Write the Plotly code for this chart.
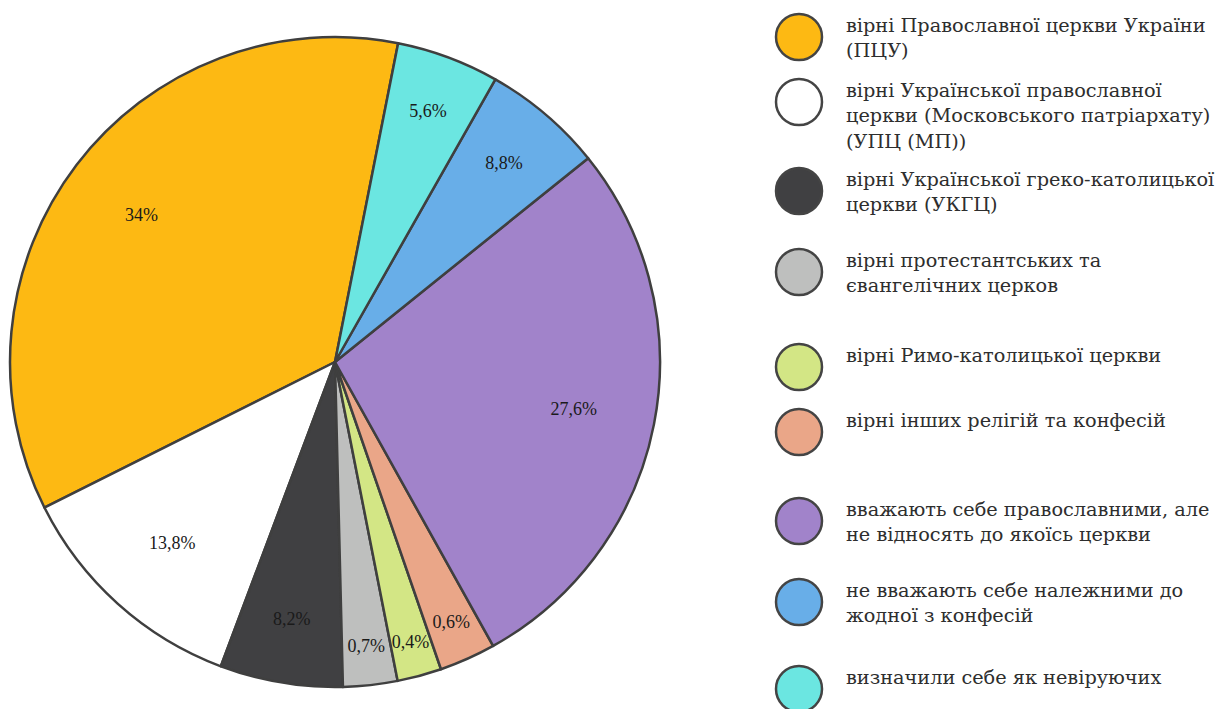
import plotly.graph_objects as go

W, H = 1225, 709
OFF = 8  # default page margin of the html body

categories = [
    "вірні Православної церкви України (ПЦУ)",
    "вірні Української православної церкви (Московського патріархату) (УПЦ (МП))",
    "вірні Української греко-католицької церкви (УКГЦ)",
    "вірні протестантських та євангелічних церков",
    "вірні Римо-католицької церкви",
    "вірні інших релігій та конфесій",
    "вважають себе православними, але не відносять до якоїсь церкви",
    "не вважають себе належними до жодної з конфесій",
    "визначили себе як невіруючих",
]
legend_lines = [
    ["вірні Православної церкви України", "(ПЦУ)"],
    ["вірні Української православної", "церкви (Московського патріархату)", "(УПЦ (МП))"],
    ["вірні Української греко-католицької", "церкви (УКГЦ)"],
    ["вірні протестантських та", "євангелічних церков"],
    ["вірні Римо-католицької церкви"],
    ["вірні інших релігій та конфесій"],
    ["вважають себе православними, але", "не відносять до якоїсь церкви"],
    ["не вважають себе належними до", "жодної з конфесій"],
    ["визначили себе як невіруючих"],
]
# shares of the circle as drawn
slice_values = [35.5, 11.9, 6.1, 2.7, 2.2, 2.8, 27.7, 6.0, 5.1]
# labels printed on the slices
value_labels = ["34%", "13,8%", "8,2%", "0,7%", "0,4%", "0,6%", "27,6%", "8,8%", "5,6%"]
colors = ["#FDB913", "#FFFFFF", "#404042", "#BEBFBE", "#D3E685",
          "#EAA688", "#A183CA", "#68AEE8", "#6BE6E1"]


def px(x):
    return (x - OFF) / W


def py(y):
    return 1 - (y - OFF) / H


def pie_domain(cx, cy, r):
    return dict(x=[px(cx - r), px(cx + r)], y=[py(cy + r), py(cy - r)])


# pie geometry (page pixels)
cx, cy, R = 335, 362, 325
R_TEXT = 310

common = dict(
    labels=categories, values=slice_values, sort=False,
    direction="counterclockwise", rotation=243.4, showlegend=False,
)

fig = go.Figure()
# the slices
fig.add_trace(go.Pie(
    **common,
    domain=pie_domain(cx, cy, R),
    textinfo="none",
    marker=dict(colors=colors, line=dict(color="#3F3F3F", width=2.5)),
    text=value_labels,
    hoverinfo="label+text",
))
# transparent ring carrying the value labels (pushes them outward)
fig.add_trace(go.Pie(
    **common,
    domain=pie_domain(cx, cy, R_TEXT),
    hole=0.57,
    text=value_labels,
    textinfo="text",
    textposition="inside",
    insidetextorientation="horizontal",
    textfont=dict(family="Liberation Serif", size=18, color="#1A1A1A"),
    marker=dict(colors=["rgba(0,0,0,0)"] * len(colors),
                line=dict(color="rgba(0,0,0,0)", width=0)),
    hoverinfo="skip",
))

# custom legend: circles + wrapped text
circle_tops = [13, 78, 167, 248, 343, 408, 497, 578, 665]
circ_x0, circ_d = 775, 48
text_x = 844
line_gap = 25.3
first_line_offset = 12.5

shapes = []
annotations = []
for i, top in enumerate(circle_tops):
    shapes.append(dict(
        type="circle", xref="paper", yref="paper",
        x0=px(circ_x0 + 1), x1=px(circ_x0 + circ_d - 1),
        y0=py(top + circ_d - 1), y1=py(top + 1),
        fillcolor=colors[i], line=dict(color="#444444", width=2.5),
    ))
    for j, line in enumerate(legend_lines[i]):
        yc = top + first_line_offset + j * line_gap
        annotations.append(dict(
            text=line, xref="paper", yref="paper",
            x=px(text_x), y=py(yc), xanchor="left", yanchor="middle",
            showarrow=False,
            font=dict(family="DejaVu Serif", size=19.3, color="#2E2E2E"),
        ))

fig.update_layout(
    width=W, height=H,
    margin=dict(l=0, r=0, t=0, b=0),
    paper_bgcolor="white", plot_bgcolor="white",
    shapes=shapes, annotations=annotations,
    uniformtext=dict(minsize=18, mode="show"),
)

fig.write_html("out.html")
